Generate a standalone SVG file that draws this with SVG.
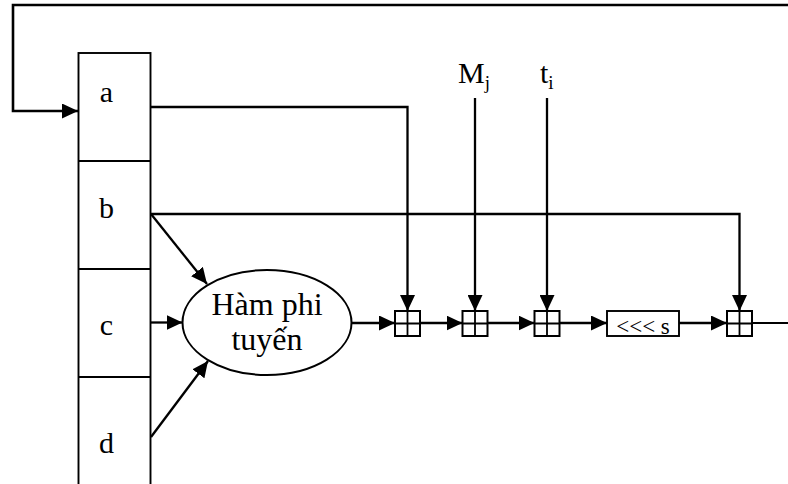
<svg xmlns="http://www.w3.org/2000/svg" width="788" height="484" viewBox="0 0 788 484">
<style>
text{font-family:"Liberation Serif","Times New Roman",serif;fill:#000}
.lbl{font-size:30px;text-anchor:middle}
.big{font-size:32px;text-anchor:middle}
.sub{font-size:19px}
.ln{fill:none;stroke:#000;stroke-width:2.3}
.box{fill:#fff;stroke:#000;stroke-width:1.9}
.add rect{fill:#fff;stroke:#000;stroke-width:2}
.add path{fill:none;stroke:#000;stroke-width:1.8}
</style>
<defs>
<marker id="ah" markerUnits="userSpaceOnUse" markerWidth="16" markerHeight="15" refX="16" refY="7.5" orient="auto">
<path d="M0,0 L16,7.5 L0,15 z" fill="#000"/>
</marker>
</defs>
<g id="register">
<rect class="box" x="78.5" y="53" width="72" height="440"/>
<path class="ln" style="stroke-width:1.9" d="M78.5,161 H150.5 M78.5,269 H150.5 M78.5,377 H150.5"/>
</g>
<g id="reg-a"><text class="lbl" x="106.5" y="102">a</text></g>
<g id="reg-b"><text class="lbl" x="106.5" y="218">b</text></g>
<g id="reg-c"><text class="lbl" x="106.5" y="335">c</text></g>
<g id="reg-d"><text class="lbl" x="106.5" y="453">d</text></g>
<g id="nonlinear">
<ellipse cx="267" cy="322.5" rx="84.5" ry="52.5" fill="#fff" stroke="#000" stroke-width="2"/>
<text class="big" x="267" y="315">Hàm phi</text>
<text class="big" x="267" y="350">tuyến</text>
</g>
<g id="label-Mj"><text x="458" y="83" style="font-size:30px">M<tspan class="sub" dy="6">j</tspan></text></g>
<g id="label-ti"><text x="540" y="83" style="font-size:30px">t<tspan class="sub" dy="6">i</tspan></text></g>
<g id="add1" class="add"><rect x="395" y="311" width="25" height="25"/><path d="M407.5,311 V336 M395,323.5 H420"/></g>
<g id="add2" class="add"><rect x="462.5" y="311" width="25" height="25"/><path d="M475,311 V336 M462.5,323.5 H487.5"/></g>
<g id="add3" class="add"><rect x="534.5" y="311" width="25" height="25"/><path d="M547,311 V336 M534.5,323.5 H559.5"/></g>
<g id="rotate">
<rect class="box" x="607" y="311" width="72" height="25"/>
<text x="643" y="334" style="font-size:23px;text-anchor:middle">&lt;&lt;&lt; s</text>
</g>
<g id="add4" class="add"><rect x="727" y="311" width="25" height="25"/><path d="M739.5,311 V336 M727,323.5 H752"/></g>
<g id="connectors">
<path class="ln" style="stroke-width:2.6" d="M788,5 H13 V111 H78" marker-end="url(#ah)"/>
<path class="ln" d="M151,107 H407.5 V311" marker-end="url(#ah)"/>
<path class="ln" d="M151,214 H739.5 V311" marker-end="url(#ah)"/>
<path class="ln" d="M475,98 V311" marker-end="url(#ah)"/>
<path class="ln" d="M547,98 V311" marker-end="url(#ah)"/>
<path class="ln" d="M151,214 L207,284" marker-end="url(#ah)"/>
<path class="ln" d="M151,322.5 H182.5" marker-end="url(#ah)"/>
<path class="ln" d="M151,437 L208,361" marker-end="url(#ah)"/>
<path class="ln" d="M351.5,323 H395" marker-end="url(#ah)"/>
<path class="ln" d="M420,323 H462.5" marker-end="url(#ah)"/>
<path class="ln" d="M487.5,323 H534.5" marker-end="url(#ah)"/>
<path class="ln" d="M559.5,323 H607" marker-end="url(#ah)"/>
<path class="ln" d="M679,323 H727" marker-end="url(#ah)"/>
<path class="ln" style="stroke-width:1.8" d="M752,323 H788"/>
</g>
</svg>
